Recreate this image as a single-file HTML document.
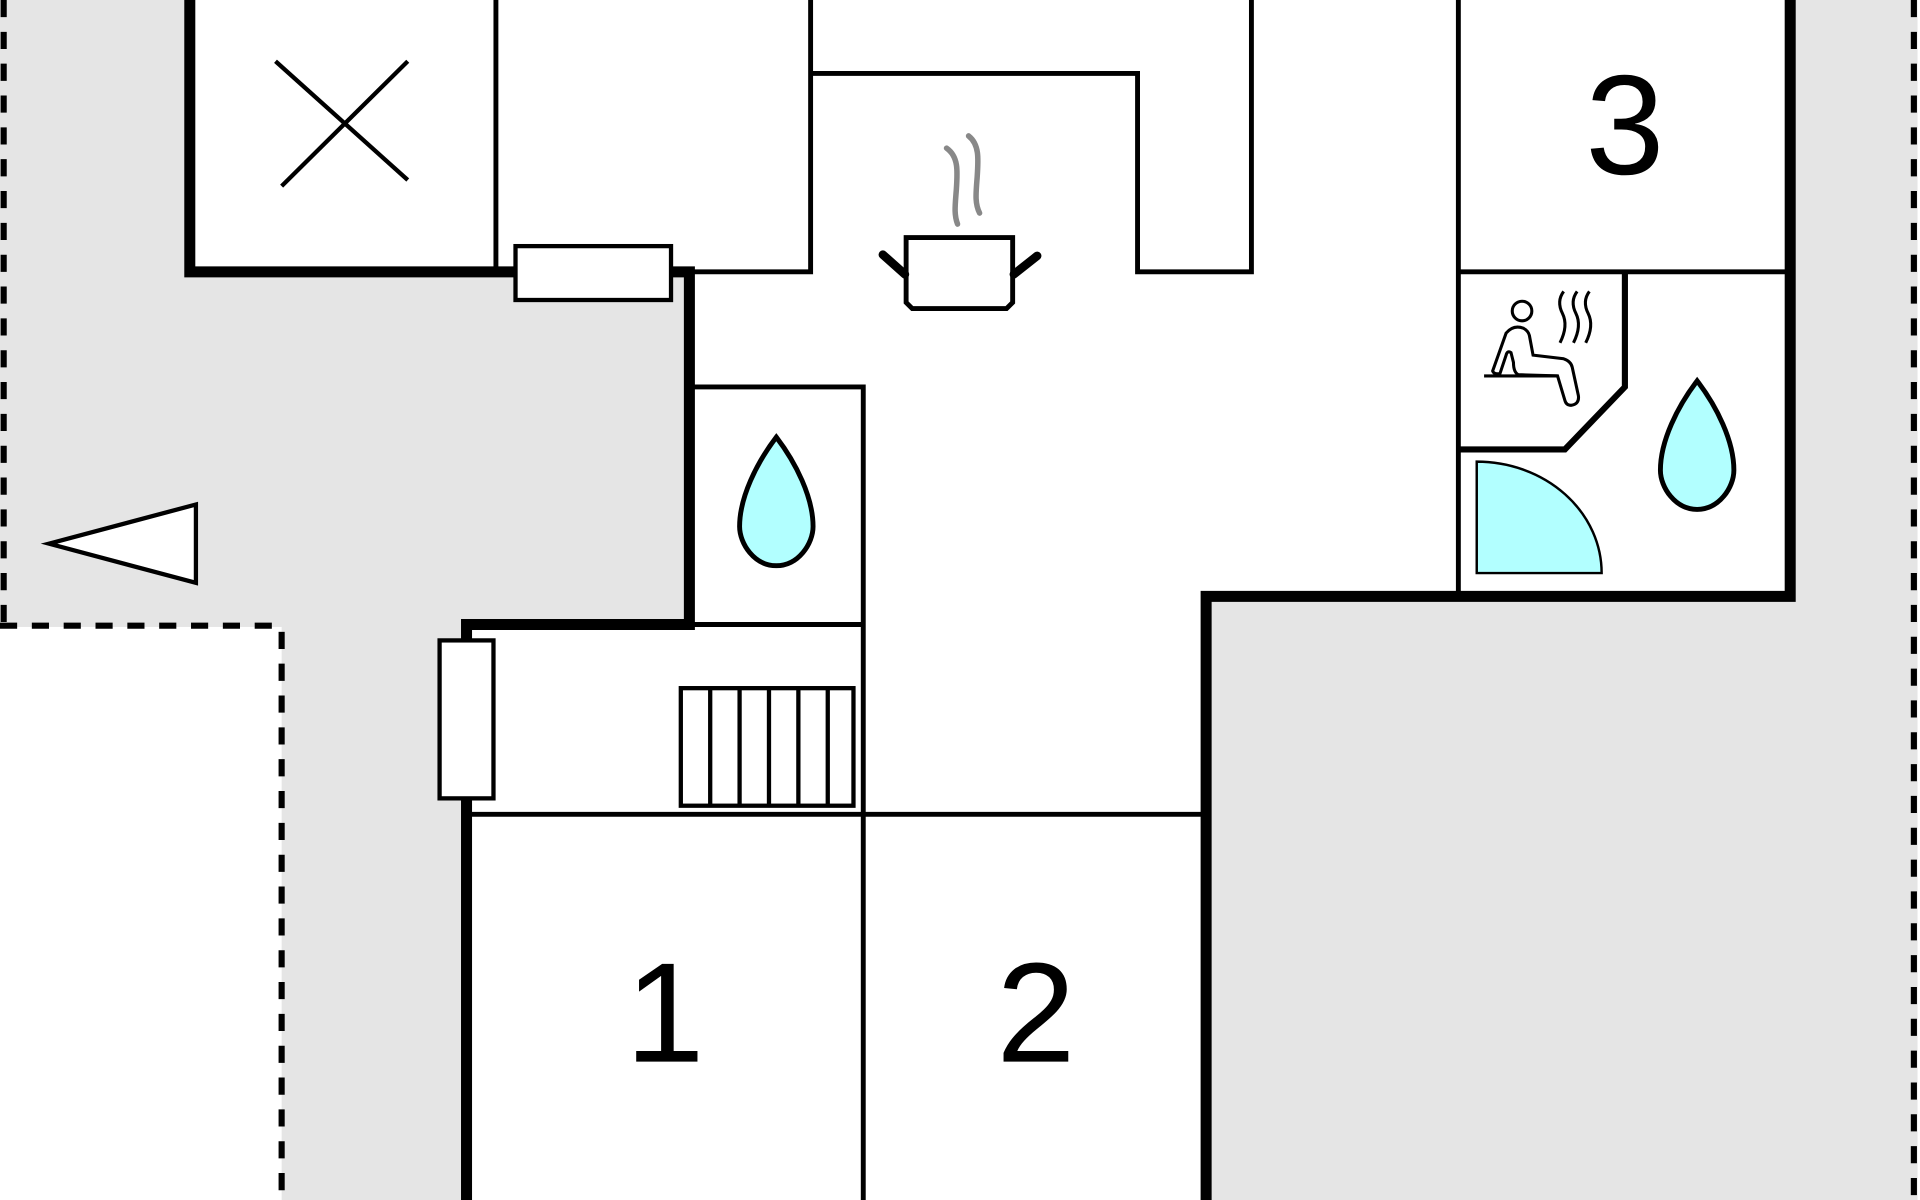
<!DOCTYPE html>
<html><head><meta charset="utf-8"><style>html,body{margin:0;padding:0;background:#fff}svg{display:block}</style></head>
<body>
<svg width="1920" height="1200" viewBox="0 0 1568 980" xmlns="http://www.w3.org/2000/svg">
<rect x="0" y="0" width="1568" height="980" fill="#e5e5e5"/>
<rect x="0" y="512" width="230" height="468" fill="#fff"/>
<rect x="1566" y="0" width="2" height="980" fill="#fff"/>
<polygon points="155,0 1462,0 1462,487 985,487 985,980 381,980 381,510 563,510 563,222 155,222" fill="#fff"/>
<g stroke="#000" fill="none" stroke-dasharray="14,12" stroke-width="5">
<line x1="3" y1="0" x2="3" y2="512"/>
<line x1="0" y1="511" x2="230" y2="511"/>
<line x1="230" y1="516" x2="230" y2="980"/>
<line x1="1563" y1="0" x2="1563" y2="980"/>
</g>
<g stroke="#000" fill="none" stroke-width="9" stroke-linecap="square">
<polyline points="155,0 155,222 420,222"/>
<polyline points="548,222 563,222 563,510 381,510 381,980"/>
<polyline points="985,980 985,487 1462,487 1462,0"/>
</g>
<g stroke="#000" fill="none" stroke-width="4">
<line x1="405" y1="0" x2="405" y2="222"/>
<polyline points="548,222 662,222 662,0"/>
<polyline points="662,60 929,60 929,222 1022,222 1022,0"/>
<line x1="1191" y1="0" x2="1191" y2="487"/>
<line x1="1191" y1="222" x2="1462" y2="222"/>
<polyline points="1191,367 1278,367 1327,316 1327,222" stroke-width="5"/>
<polyline points="565,316 705,316 705,980"/>
<line x1="563" y1="510" x2="705" y2="510"/>
<line x1="381" y1="665" x2="985" y2="665"/>
<line x1="225" y1="50" x2="333" y2="147" stroke-width="3.5"/>
<line x1="333" y1="50" x2="230" y2="152" stroke-width="3.5"/>
</g>
<rect x="421" y="201" width="127" height="44" fill="#fff" stroke="#000" stroke-width="3.5"/>
<rect x="359" y="523" width="44" height="129" fill="#fff" stroke="#000" stroke-width="3.5"/>
<g stroke="#000" fill="#fff" stroke-width="3.5">
<rect x="556" y="562" width="141" height="96"/>
<line x1="580" y1="562" x2="580" y2="658"/><line x1="604" y1="562" x2="604" y2="658"/><line x1="628" y1="562" x2="628" y2="658"/><line x1="652" y1="562" x2="652" y2="658"/><line x1="676" y1="562" x2="676" y2="658"/>
</g>
<polygon points="40,444 160,412 160,476" fill="#fff" stroke="#000" stroke-width="3.5"/>
<path d="M634,357 C618,378 604,406 604,430 C604,444 616,462 634,462 C652,462 664,444 664,430 C664,406 650,378 634,357 Z" fill="#b2ffff" stroke="#000" stroke-width="4"/>
<path d="M1386,311 C1370,332 1356,360 1356,384 C1356,398 1368,416 1386,416 C1404,416 1416,398 1416,384 C1416,360 1402,332 1386,311 Z" fill="#b2ffff" stroke="#000" stroke-width="4"/>
<path d="M1206,377 L1206,468 L1308,468 A102,91 0 0 0 1206,377 Z" fill="#b2ffff" stroke="#000" stroke-width="2"/>
<path d="M740,194 L827,194 L827,247 L822,252 L745,252 L740,247 Z" fill="#fff" stroke="#000" stroke-width="4"/>
<line x1="721" y1="208" x2="739" y2="224" stroke="#000" stroke-width="7" stroke-linecap="round"/>
<line x1="828" y1="224" x2="847" y2="209" stroke="#000" stroke-width="7" stroke-linecap="round"/>
<path d="M773,121 C783,128 782,140 781,155 C780,168 779,175 782,183" fill="none" stroke="#888" stroke-width="4.5" stroke-linecap="round"/>
<path d="M791,111 C800,118 799,130 798,145 C797,158 796,166 800,174" fill="none" stroke="#888" stroke-width="4.5" stroke-linecap="round"/>
<circle cx="1243" cy="254" r="8" fill="#fff" stroke="#000" stroke-width="2.5"/>
<path d="M1219,303 L1230,272 Q1236,265 1244,268 Q1248,270 1249,274 L1252,290 L1277,293 Q1283,295 1284,300 L1289,323 Q1290,330 1283,331 Q1279,331 1278,327 L1272,307 L1240,306 Q1236,304 1236,296 L1234,288 Q1231,286 1230,290 L1225,305 Q1220,306 1219,303 Z" fill="#fff" stroke="#000" stroke-width="2.5"/>
<line x1="1212" y1="307" x2="1272" y2="307" stroke="#000" stroke-width="2.5"/>
<g fill="none" stroke="#000" stroke-width="2.5">
<path d="M1277,238 Q1271,246 1276,256 Q1281,266 1274,280"/>
<path d="M1288,238 Q1282,246 1287,256 Q1292,266 1285,280"/>
<path d="M1298,238 Q1292,246 1297,256 Q1302,266 1295,280"/>
</g>
<g font-family="Liberation Sans, sans-serif" font-size="116" text-anchor="middle" fill="#000">
<text x="543" y="867">1</text>
<text x="846" y="867">2</text>
<text x="1327" y="142">3</text>
</g>
</svg>
</body></html>
